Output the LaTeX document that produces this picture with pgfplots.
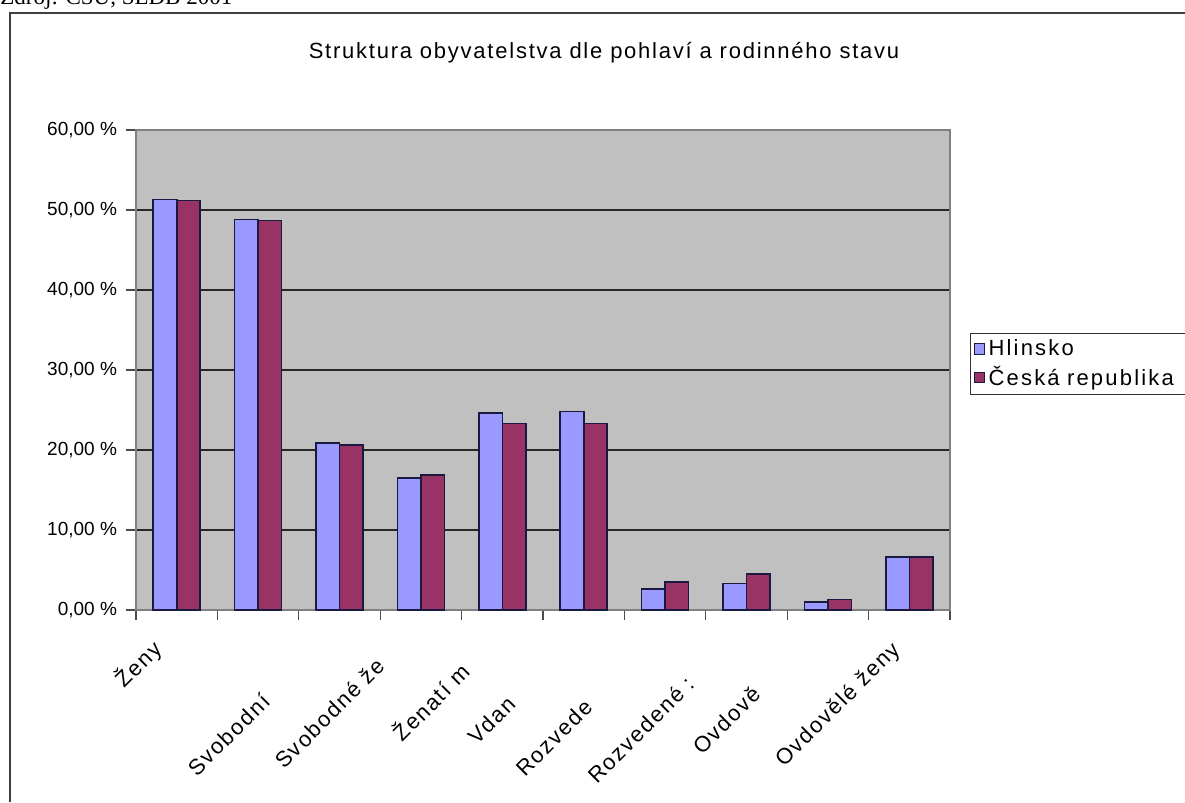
\documentclass[border=0pt]{standalone}
\usepackage{fontspec}
\setmainfont{Liberation Sans}
\newfontfamily\serif{Liberation Serif}
\newfontfamily\titlefont[LetterSpace=8]{Liberation Sans}
\newfontfamily\labfont[LetterSpace=8]{Liberation Sans}
\newfontfamily\legfont[LetterSpace=10]{Liberation Sans}
\usepackage{pgfplots}
\pgfplotsset{compat=1.18}
\definecolor{hl}{HTML}{9999FF}
\definecolor{cr}{HTML}{993366}
\definecolor{plotbg}{HTML}{C0C0C0}
\definecolor{edge}{HTML}{1A1A40}

% podil v % (Hlinsko, CR), kategorie 1..10
\pgfplotstableread{
x  hl    cr
1  51.3  51.2
2  48.8  48.7
3  20.9  20.6
4  16.5  16.9
5  24.6  23.3
6  24.8  23.3
7  2.6   3.5
8  3.3   4.5
9  1.0   1.3
10 6.6   6.6
}\data

\begin{document}
\begin{tikzpicture}[x=0.5bp,y=0.5bp]
\useasboundingbox (0,0) rectangle (1185,802);
\draw[line width=1bp, black!75] (10,0) -- (10,789) -- (1185,789);
\node[anchor=base west, inner sep=0, font=\serif\fontsize{11.5bp}{12bp}\selectfont]
  at (0,797) {Zdroj: ČSÚ, SLDB 2001};
\node[font=\titlefont\fontsize{11bp}{13bp}\selectfont] at (604,749)
  {Struktura obyvatelstva dle pohlaví a rodinného stavu};

\begin{axis}[
  at={(68bp,96bp)}, anchor=south west,
  width=407bp, height=240bp, scale only axis,
  clip=false,
  axis background/.style={fill=plotbg},
  axis line style={black!50, line width=1bp},
  xmin=0.5, xmax=10.5,
  ymin=0, ymax=60,
  xtick={0.5,1.5,...,10.5},
  xticklabels={},
  ytick={0,10,20,30,40,50,60},
  yticklabels={{0,00 \%},{10,00 \%},{20,00 \%},{30,00 \%},{40,00 \%},{50,00 \%},{60,00 \%}},
  yticklabel style={font=\fontsize{9.5bp}{11bp}\selectfont, xshift=-1bp},
  tick pos=left, tick align=outside,
  major tick length=5bp,
  tick style={black!70, line width=0.6bp},
  ymajorgrids=true,
  grid style={black!85, line width=0.6bp},
  ybar=0pt, bar width=11.75bp,
  legend style={at={(1.0246,0.577)}, anchor=north west,
    draw=black!80, line width=0.5bp, fill=white,
    font=\legfont\fontsize{11bp}{13bp}\selectfont,
    inner xsep=1.5bp, inner ysep=1bp, row sep=0bp,
    text width=110bp},
  legend cell align=left,
  legend image code/.code={\draw[#1, line width=0.5bp] (0bp,-2.6bp) rectangle (5bp,2.6bp);},
]
\addplot[fill=hl, draw=edge, line width=0.8bp] table[x=x, y=hl] {\data};
\addplot[fill=cr, draw=edge, line width=0.8bp] table[x=x, y=cr] {\data};
\legend{Hlinsko, Česká republika}

\begin{scope}[every node/.style={rotate=45, anchor=east, inner sep=0,
    font=\labfont\fontsize{11bp}{13bp}\selectfont}]
\node at (axis cs:0.77,-4.4)  {Ženy};
\node at (axis cs:2.1,-10.9) {Svobodní};
\node at (axis cs:3.51,-6.5)  {Svobodné že};
\node at (axis cs:4.54,-7.1)  {Ženatí m};
\node at (axis cs:5.12,-11.25) {Vdan};
\node at (axis cs:6.06,-11.6) {Rozvede};
\node at (axis cs:7.31,-8.75) {Rozvedené :};
\node at (axis cs:8.13,-10)   {Ovdově};
\node at (axis cs:9.85,-4.6)  {Ovdovělé ženy};
\end{scope}
\end{axis}
\end{tikzpicture}
\end{document}
